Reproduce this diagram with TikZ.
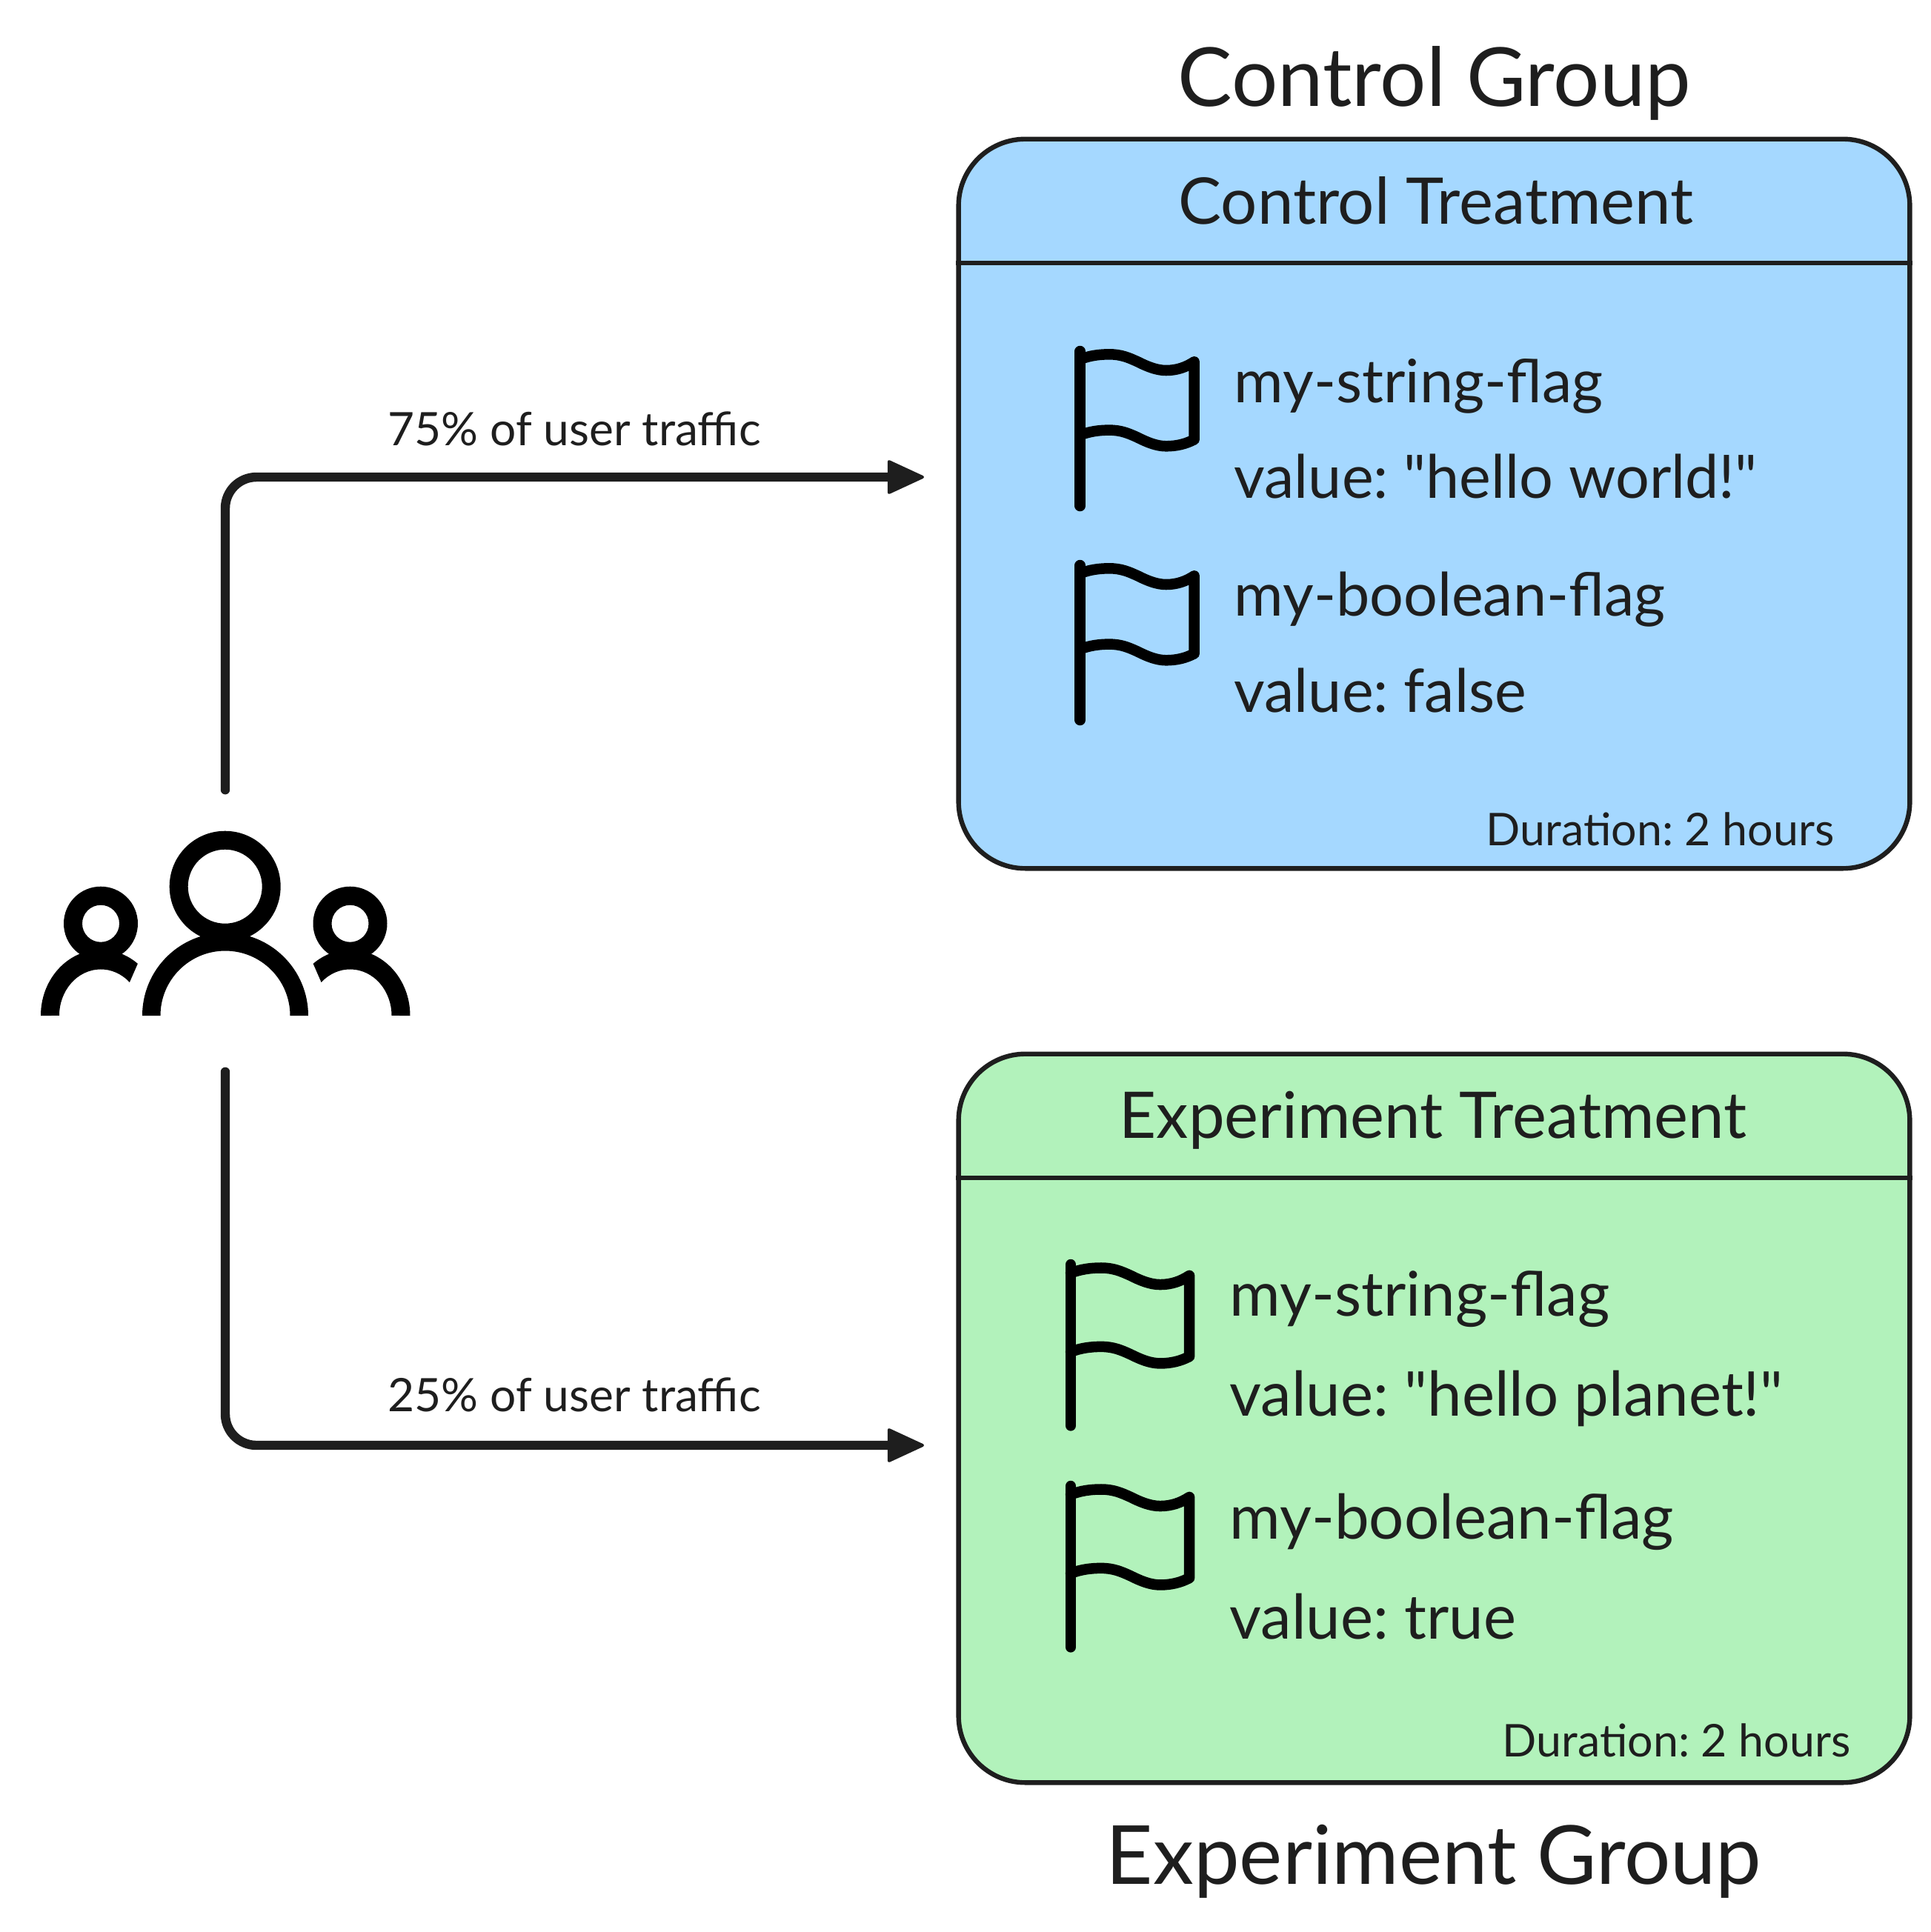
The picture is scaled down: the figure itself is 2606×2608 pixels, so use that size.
\documentclass[tikz,border=0pt]{standalone}
\usepackage{fontspec}
\setmainfont{Lato}[Ligatures=TeXOff]
\frenchspacing
\usetikzlibrary{arrows.meta, positioning}
\definecolor{colorC}{HTML}{A5D8FF}
\definecolor{colorE}{HTML}{B2F2BB}
\definecolor{colorInk}{HTML}{1E1E1E}
\tikzset{
    treatmentbox/.style={draw=colorInk, line width=.064cm, rounded corners=.9cm, inner sep=0pt, minimum width=12.83cm},
    divider/.style={draw=colorInk, line width=.064cm},
    flow/.style={draw=colorInk, line width=.124cm, line cap=round, rounded corners=.42cm, -{Triangle[length=.52cm,width=.47cm,round,line width=.04cm]}},
    flagline/.style={line width=.145cm, line cap=round, line join=round},
    grouptext/.style={text=colorInk, inner sep=0pt, anchor=base, font=\fontsize{31.3}{36}\selectfont},
    headtext/.style={text=colorInk, inner sep=0pt, anchor=base, font=\fontsize{24.7}{29}\selectfont},
    flagtext/.style={text=colorInk, inner sep=0pt, anchor=base west, font=\fontsize{23}{27}\selectfont},
    flagtextbig/.style={text=colorInk, inner sep=0pt, anchor=base west, font=\fontsize{23.7}{28}\selectfont},
    notetext/.style={text=colorInk, inner sep=0pt, anchor=base east, font=\fontsize{17.3}{21}\selectfont},
    edgetext/.style={text=colorInk, inner sep=0pt, anchor=base, font=\fontsize{17.7}{21}\selectfont},
}
\newcommand{\flagicon}[3]{
        \begin{scope}[shift={(#1,#2)}, scale=#3]
            \draw[flagline] (0,0) -- (0,209);
            \draw[flagline] (0,11) .. controls (13,6) and (26,4.3) .. (39.4,4.3) .. controls (55,4.3) and (65,8.5) .. (77.7,14.3) .. controls (90,20.5) and (103,26) .. (116,26) .. controls (131,26) and (143,21.5) .. (154,14.3) -- (154,119.3) .. controls (143,125) and (131,128.3) .. (116,128.3) .. controls (103,128.3) and (90,122.8) .. (77.7,116.6) .. controls (65,110.8) and (55,106.6) .. (39.4,106.6) .. controls (26,106.6) and (13,108.3) .. (0,113.3);
        \end{scope}
}
\begin{document}
\begin{tikzpicture}[x=.01cm, y=-.01cm]
        \useasboundingbox (0,0) rectangle (2606,2608);

        % people
        \node[inner sep=0pt, minimum width=5.2cm, minimum height=3.79cm] (users) at (304,1256.5) {};
        \fill[black, even odd rule] (303.7,1196.7) circle [radius=75] (303.7,1196.7) circle [radius=50];
        \fill[black] (192,1371) arc[start angle=180, end angle=360, radius=112] -- (391.5,1371) arc[start angle=0, end angle=-180, radius=87.5] -- cycle;
        \fill[black, even odd rule] (136,1246.7) circle [radius=50] (136,1246.7) circle [radius=25];
        \fill[black] (55,1371) arc[start angle=180, end angle=308, x radius=81, y radius=89] -- (174.9,1326) arc[start angle=314, end angle=180, x radius=56, y radius=62.5] -- cycle;
        \fill[black, even odd rule] (472.5,1246.7) circle [radius=50] (472.5,1246.7) circle [radius=25];
        \fill[black] (553.5,1371) arc[start angle=0, end angle=-128, x radius=81, y radius=89] -- (433.6,1326) arc[start angle=-134, end angle=0, x radius=56, y radius=62.5] -- cycle;

        % control group
        \node[grouptext] (controlgroup) at (1936,143) {Control Group};
        \node[treatmentbox, fill=colorC, minimum height=9.84cm] (controlbox) at (1935.5,680) {};
        \draw[divider] (controlbox.west |- 0,355) -- (controlbox.east |- 0,355);
        \node[headtext] (controlhead) at (1938,302) {Control Treatment};
        \flagicon{1457.7}{474}{1}
        \node[flagtext] (controlstring) at (1665,543) {my-string-flag};
        \node[flagtext] (controlstringval) at (1665,672) {value: "hello world!"};
        \flagicon{1457.7}{763}{1}
        \node[flagtext] (controlbool) at (1665,831) {my-boolean-flag};
        \node[flagtext] (controlboolval) at (1665,961) {value: false};
        \node[notetext] (controlnote) at (2476,1141) {Duration: 2 hours};

        % experiment group
        \node[treatmentbox, fill=colorE, minimum height=9.83cm] (experimentbox) at (1935.5,1914.5) {};
        \draw[divider] (experimentbox.west |- 0,1590) -- (experimentbox.east |- 0,1590);
        \node[headtext] (experimenthead) at (1934,1536) {Experiment Treatment};
        \flagicon{1445}{1707}{1.04}
        \node[flagtextbig] (experimentstring) at (1659,1776) {my-string-flag};
        \node[flagtextbig] (experimentstringval) at (1659,1911) {value: "hello planet!"};
        \flagicon{1445}{2006}{1.04}
        \node[flagtextbig] (experimentbool) at (1659,2077) {my-boolean-flag};
        \node[flagtextbig] (experimentboolval) at (1659,2212) {value: true};
        \node[notetext] (experimentnote) at (2498,2371) {Duration: 2 hours};
        \node[grouptext] (experimentgroup) at (1935,2543) {Experiment Group};

        % traffic split
        \coordinate (controlin) at (1247,644);
        \coordinate (experimentin) at (1247,1951);
        \draw[flow] (users.north) |- (controlin);
        \draw[flow] (users.south) |- (experimentin);
        \node[edgetext] (controledge) at (775,601) {75\% of user traffic};
        \node[edgetext] (experimentedge) at (775,1905) {25\% of user traffic};
\end{tikzpicture}
\end{document}
